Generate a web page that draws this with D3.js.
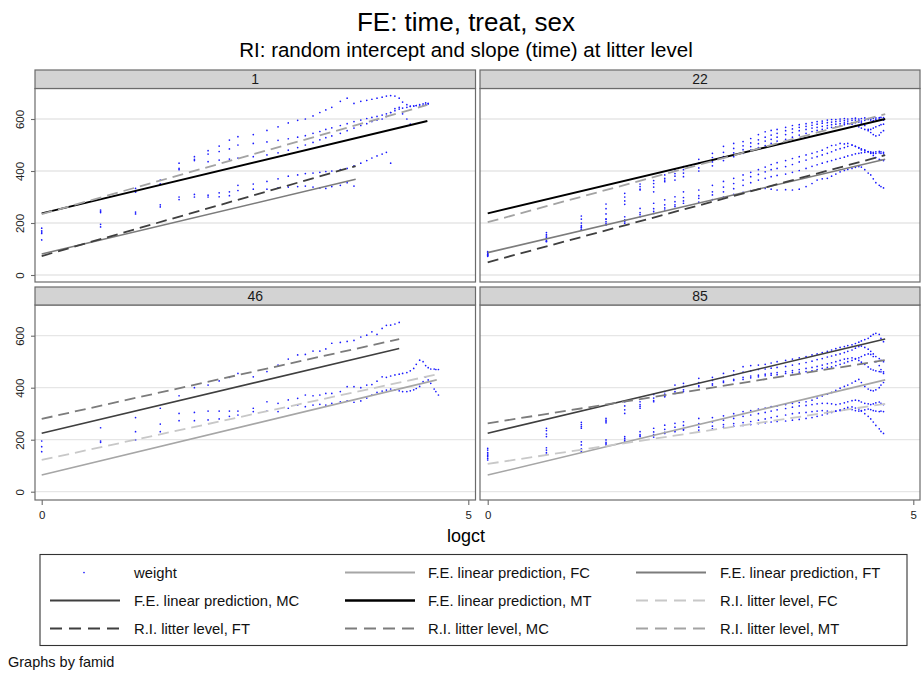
<!DOCTYPE html>
<html><head><meta charset="utf-8">
<script src="https://cdn.jsdelivr.net/npm/d3@7"></script>
<style>body{margin:0;background:#fff} svg{display:block;font-family:"Liberation Sans",Arial,sans-serif}</style>
</head><body><svg id="c" width="921" height="675"></svg>
<script>
// ---------------- DATA ----------------
const titleText = "FE: time, treat, sex";
const subtitleText = "RI: random intercept and slope (time) at litter level";
const xTitle = "logct";
const noteText = "Graphs by famid";
const famids = ["1", "22", "46", "85"];
const yTicks = [0, 200, 400, 600];
const xTicks = [0, 5];

// measurement times (logct) shared by all pups
const logct = [0,0.69,1.10,1.39,1.61,1.79,1.95,2.08,2.20,2.30,2.48,2.64,2.77,2.89,3.00,3.09,3.18,3.26,3.33,3.40,3.50,3.58,3.66,3.74,3.81,3.87,3.93,3.99,4.04,4.09,4.14,4.19,4.23,4.28,4.32,4.36,4.39,4.43,4.47,4.50,4.53,4.56,4.60,4.62,4.65];

// famid 1 weights
const w1_m1 = [170,250,333,365,430,455,478,496,519,532,540,556,570,585,595,600,612,625,635,645,668,680,660,668,672,676,680,684,688,690,688,680,665,655,650,650,652,655,658,662,660];
const w1_m2 = [160,245,320,350,405,440,436,442,446,450,455,462,470,480,490,500,510,520,528,535,545,555,565,575,582,590,596,600,610,625,640,645,620,600,580];
const w1_m3 = [180,240,320,350,410,445,465,475,485,500,506,512,518,524,530,536,545,552,560,566,575,582,590,596,602,606,610,615,620,625,632,638,642,645,648,650,652,650,652,655,658];
const w1_f1 = [135,195,242,270,300,310,307,316,320,345,350,360,370,380,385,390,392,395,398,400,405,410,420,430,440,450,458,465,472,430];
const w1_f2 = [165,185,235,262,290,300,300,301,305,325,330,330,335,338,340,342,338,335,333,340,345,355,342];
// famid 22 weights
const w22_m1 = [90,163,227,273,314,350,363,385,404,417,445,468,495,506,513,525,540,551,556,560,568,575,578,582,586,590,592,596,598,598,600,602,600,602,603,600,602,604,602,600,603,604,605,606,605];
const w22_m2 = [85,155,215,255,300,340,352,372,390,405,430,452,472,487,497,508,520,530,538,545,555,562,568,572,576,580,584,586,588,590,592,594,592,595,596,594,592,595,598,596,594,598,600,598,596];
const w22_m3 = [80,145,200,235,285,330,338,365,380,392,412,435,455,470,482,494,505,515,522,530,540,548,555,560,565,568,572,575,578,580,582,585,583,580,575,570,565,560,555,560,565,570,575,578,580];
const w22_m4 = [75,130,185,215,272,327,320,359,365,378,400,420,440,455,468,480,490,498,506,515,522,530,538,545,552,556,560,565,568,570,574,578,582,585,586,588,585,575,560,548,540,535,538,548,555];
const w22_f1 = [85,150,190,215,224,256,276,289,301,320,327,345,360,372,385,395,405,415,425,432,440,448,455,462,468,474,480,490,498,500,506,504,506,500,495,490,485,481,475,468,460,452,445,442,440];
const w22_f2 = [80,140,182,205,212,240,255,270,282,298,305,320,338,352,365,378,387,397,405,410,417,425,435,442,450,455,462,468,474,481,486,490,495,500,495,488,481,478,474,470,468,468,470,468,466];
const w22_f3 = [75,132,176,198,205,232,245,258,270,285,295,308,320,332,345,355,365,372,378,383,388,395,402,410,418,424,430,436,440,445,449,453,458,462,466,468,470,472,474,474,472,474,476,474,472];
const w22_f4 = [72,128,173,192,199,224,237,250,263,276,280,290,300,310,318,325,330,333,330,327,328,327,330,340,352,365,370,372,380,388,397,402,406,410,414,417,415,405,392,385,370,355,345,340,335];
// famid 46 weights
const w46_m1 = [195,246,285,321,369,400,410,426,440,455,442,462,487,510,526,528,541,541,549,571,574,578,582,595,602,615,605,628,640,641,645,651];
const w46_f1 = [173,195,231,260,301,305,310,310,310,310,321,346,340,353,359,372,369,372,378,378,385,404,404,400,410,412,425,442,440,445,449,452,455,458,465,474,490,506,500,485,477,472,472,470,470];
const w46_f2 = [154,190,199,231,273,273,276,280,290,295,308,310,308,321,333,327,333,336,333,340,346,349,344,349,360,372,382,387,391,395,392,388,385,385,388,392,397,405,423,442,430,417,395,385,372];
// famid 85 weights
const w85_m1 = [167,244,267,282,346,346,374,385,410,417,436,440,455,465,481,485,487,490,495,500,505,510,515,520,526,530,535,540,545,550,555,558,562,565,570,575,580,585,590,598,605,609,605,590,577];
const w85_m2 = [160,235,258,275,330,335,360,375,395,405,420,428,440,450,460,465,470,472,475,478,482,487,492,497,502,508,512,518,522,526,530,535,540,545,552,558,560,555,548,540,530,520,512,505,500];
const w85_m3 = [150,222,250,270,315,328,350,368,385,392,408,415,425,432,440,445,448,452,455,458,462,466,470,474,478,482,487,492,496,500,505,510,512,515,512,505,498,490,480,472,468,465,462,461,461];
const w85_m4 = [140,212,244,265,301,321,346,365,378,385,404,410,420,428,432,438,442,446,448,450,455,458,460,462,465,470,474,478,480,485,490,495,500,505,510,515,520,526,530,528,520,500,485,470,455];
const w85_f1 = [135,169,192,199,212,231,244,256,263,269,282,285,292,300,308,312,318,322,327,330,335,340,343,346,352,360,368,375,382,390,398,405,410,418,425,432,420,405,395,390,388,392,400,410,420];
const w85_f2 = [128,160,180,190,205,220,230,240,248,255,262,268,275,282,290,295,300,305,310,315,320,325,330,332,335,338,340,340,338,335,338,342,346,350,352,350,345,340,338,335,338,342,345,340,335];
const w85_f3 = [122,150,165,185,198,215,220,228,235,240,248,252,258,262,266,270,275,280,285,290,295,300,303,305,308,310,312,310,308,310,315,320,324,326,322,318,310,300,290,280,268,255,242,232,224];
const w85_f4 = [145,144,154,180,192,212,210,224,231,237,237,242,248,252,255,258,262,265,268,270,272,275,278,282,285,290,295,300,305,310,312,315,318,316,312,310,312,315,318,316,312,310,308,310,308];

// prediction lines: [series, logct start, logct end, weight start, weight end]
const lines_1  = [["FE_FT",0,3.68,81,368],["RI_FT",0,3.68,73,419],["FE_MT",0,4.52,237,592],["RI_MT",0,4.52,234,654]];
const lines_22 = [["FE_FT",0,4.67,86,445],["RI_FT",0,4.67,49,461],["FE_MT",0,4.67,237,600],["RI_MT",0,4.67,203,619]];
const lines_46 = [["FE_FC",0,4.63,64,430],["RI_FC",0,4.63,122,451],["FE_MC",0,4.19,225,551],["RI_MC",0,4.19,280,587]];
const lines_85 = [["FE_FC",0,4.67,64,430],["RI_FC",0,4.67,107,338],["FE_MC",0,4.67,225,587],["RI_MC",0,4.67,263,506]];

const legendKeys = ["weight","FE_FC","FE_FT","FE_MC","FE_MT","RI_FC","RI_FT","RI_MC","RI_MT"];
const legendLabels = ["weight","F.E. linear prediction, FC","F.E. linear prediction, FT","F.E. linear prediction, MC","F.E. linear prediction, MT","R.I. litter level, FC","R.I. litter level, FT","R.I. litter level, MC","R.I. litter level, MT"];

// ---------------- STYLE ----------------
const style = {
  FE_FC: {c:"#a6a6a6", w:1.6, d:null},
  FE_FT: {c:"#7c7c7c", w:1.6, d:null},
  FE_MC: {c:"#3f3f3f", w:1.6, d:null},
  FE_MT: {c:"#000000", w:2.0, d:null},
  RI_FC: {c:"#c8c8c8", w:1.8, d:"11,6"},
  RI_FT: {c:"#3f3f3f", w:1.8, d:"11,6"},
  RI_MC: {c:"#7c7c7c", w:1.8, d:"11,6"},
  RI_MT: {c:"#a3a3a3", w:1.8, d:"11,6"}
};
const dotColor = "#1a1aff";

const panels = [
  {id: famids[0], pups: [w1_m1, w1_m2, w1_m3, w1_f1, w1_f2], lines: lines_1},
  {id: famids[1], pups: [w22_m1, w22_m2, w22_m3, w22_m4, w22_f1, w22_f2, w22_f3, w22_f4], lines: lines_22},
  {id: famids[2], pups: [w46_m1, w46_f1, w46_f2], lines: lines_46},
  {id: famids[3], pups: [w85_m1, w85_m2, w85_m3, w85_m4, w85_f1, w85_f2, w85_f3, w85_f4], lines: lines_85}
];

const cols = [{x0:35, x1:475.5, r0:41.7, r1:468.3}, {x0:480, x1:920, r0:487.7, r1:913.3}];
const rows = [{h0:70, h1:88.5, p1:282, z:275, s:119}, {h0:287, h1:305, p1:500, z:491.7, s:335.7}];

const svg = d3.select("#c");
svg.append("rect").attr("width",921).attr("height",675).attr("fill","#fff");

svg.append("text").attr("x",466).attr("y",30.5).attr("text-anchor","middle")
  .attr("font-size",26).attr("fill","#000").text(titleText);
svg.append("text").attr("x",466).attr("y",57).attr("text-anchor","middle")
  .attr("font-size",20.5).attr("fill","#000").text(subtitleText);

const lineGen = d3.line();

panels.forEach((p, i) => {
  const c = cols[i % 2], r = rows[Math.floor(i / 2)];
  const x = d3.scaleLinear().domain([0,5]).range([c.r0, c.r1]);
  const y = d3.scaleLinear().domain([0,600]).range([r.z, r.s]);
  const g = svg.append("g");
  const cid = "clip" + i;
  g.append("clipPath").attr("id", cid).append("rect")
    .attr("x", c.x0).attr("y", r.h1).attr("width", c.x1 - c.x0).attr("height", r.p1 - r.h1);

  g.append("rect").attr("x", c.x0).attr("y", r.h1).attr("width", c.x1 - c.x0).attr("height", r.p1 - r.h1)
    .attr("fill", "#fff");
  g.selectAll(".grid").data(yTicks).enter().append("line")
    .attr("x1", c.x0).attr("x2", c.x1).attr("y1", d => y(d)).attr("y2", d => y(d))
    .attr("stroke", "#e6e6e6").attr("stroke-width", 1.3);

  const inner = g.append("g").attr("clip-path", `url(#${cid})`);
  p.pups.forEach(w => {
    inner.append("g").selectAll("circle").data(w.map((v, k) => [logct[k], v])).enter().append("circle")
      .attr("cx", d => x(d[0])).attr("cy", d => y(d[1])).attr("r", 0.85).attr("fill", dotColor);
  });
  p.lines.forEach(l => {
    const s = style[l[0]];
    inner.append("path").attr("d", lineGen([[x(l[1]), y(l[3])], [x(l[2]), y(l[4])]]))
      .attr("fill", "none").attr("stroke", s.c).attr("stroke-width", s.w)
      .attr("stroke-dasharray", s.d);
  });

  g.append("rect").attr("x", c.x0).attr("y", r.h1).attr("width", c.x1 - c.x0).attr("height", r.p1 - r.h1)
    .attr("fill", "none").attr("stroke", "#6b6b6b").attr("stroke-width", 1.2);
  g.append("rect").attr("x", c.x0).attr("y", r.h0).attr("width", c.x1 - c.x0).attr("height", r.h1 - r.h0)
    .attr("fill", "#d3d3d3").attr("stroke", "#6b6b6b").attr("stroke-width", 1.2);
  g.append("text").attr("x", (c.x0 + c.x1) / 2).attr("y", r.h1 - 4.5).attr("text-anchor", "middle")
    .attr("font-size", 14).attr("fill", "#1a1a1a").text(p.id);

  if (i % 2 === 0) {
    const ay = g.append("g").attr("transform", `translate(${c.x0},0)`)
      .call(d3.axisLeft(y).tickValues(yTicks).tickSize(4).tickFormat(d3.format("d")));
    ay.select(".domain").remove();
    ay.selectAll(".tick line").attr("stroke", "#6b6b6b").attr("stroke-width", 1.1);
    ay.selectAll(".tick text").attr("x", 0).attr("dy", 0).attr("text-anchor", "middle")
      .attr("transform", "translate(-11,0) rotate(-90)")
      .attr("font-size", 11.5).attr("font-family", "Liberation Sans, Arial, sans-serif").attr("fill", "#222");
  }
  if (i >= 2) {
    const ax = g.append("g").attr("transform", `translate(0,${r.p1})`)
      .call(d3.axisBottom(x).tickValues(xTicks).tickSize(5).tickPadding(6).tickFormat(d3.format("d")));
    ax.select(".domain").remove();
    ax.selectAll(".tick line").attr("stroke", "#6b6b6b").attr("stroke-width", 1.1);
    ax.selectAll(".tick text").attr("font-size", 11.5)
      .attr("font-family", "Liberation Sans, Arial, sans-serif").attr("fill", "#222");
  }
});

svg.append("text").attr("x", 466).attr("y", 542).attr("text-anchor", "middle")
  .attr("font-size", 18).attr("fill", "#000").text(xTitle);

// legend
const lg = svg.append("g");
lg.append("rect").attr("x", 40).attr("y", 554.5).attr("width", 867).attr("height", 91)
  .attr("fill", "#fff").attr("stroke", "#333").attr("stroke-width", 1.1);
const colSym = [50, 345, 636];
const colTxt = [134, 428, 720];
const rowY = [572.5, 600.5, 628.5];
legendKeys.forEach((k, idx) => {
  const ci = idx % 3, ri = Math.floor(idx / 3);
  const yy = rowY[ri];
  if (k === "weight") {
    lg.append("circle").attr("cx", 84).attr("cy", yy).attr("r", 0.85).attr("fill", dotColor);
  } else {
    const s = style[k];
    lg.append("line").attr("x1", colSym[ci]).attr("x2", colSym[ci] + 70).attr("y1", yy).attr("y2", yy)
      .attr("stroke", s.c).attr("stroke-width", s.w + 0.4).attr("stroke-dasharray", s.d ? "12,7" : null);
  }
  lg.append("text").attr("x", colTxt[ci]).attr("y", yy + 5).attr("font-size", 14.8).attr("fill", "#111")
    .text(legendLabels[idx]);
});

svg.append("text").attr("x", 8).attr("y", 667).attr("font-size", 14.5).attr("fill", "#111").text(noteText);
</script></body></html>
